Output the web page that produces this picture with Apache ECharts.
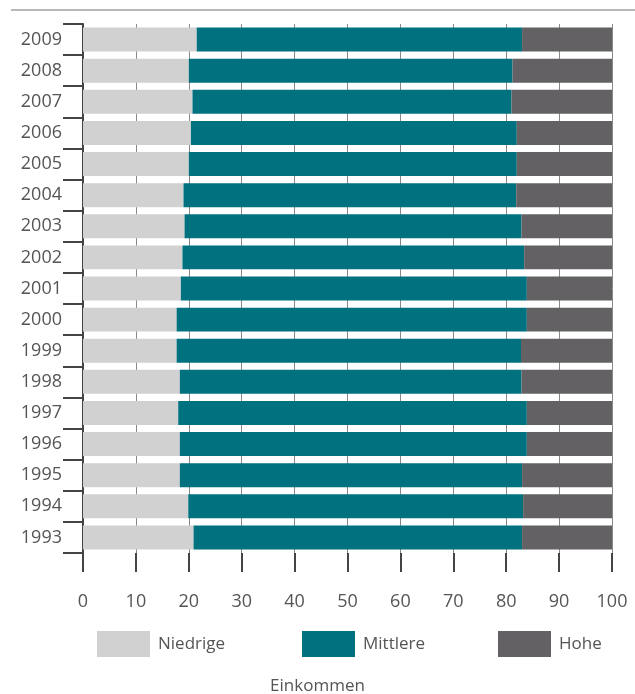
<!DOCTYPE html>
<html>
<head>
<meta charset="utf-8">
<script src="https://cdn.jsdelivr.net/npm/echarts@6/dist/echarts.min.js"></script>
<style>
  html, body { margin: 0; padding: 0; background: #fff; }
  #chart { width: 635px; height: 694px; }
</style>
</head>
<body>
<div id="chart"></div>
<script>
// Jahre von unten nach oben
const years = ["1993", "1994", "1995", "1996", "1997", "1998", "1999", "2000", "2001",
  "2002", "2003", "2004", "2005", "2006", "2007", "2008", "2009"];
const niedrige = [20.9, 19.9, 18.3, 18.3, 18.0, 18.3, 17.7, 17.7, 18.5,
  18.8, 19.2, 19.0, 20.0, 20.4, 20.7, 20.0, 21.5];
const mittlere = [62.1, 63.3, 64.7, 65.6, 65.9, 64.6, 65.1, 66.2, 65.4,
  64.6, 63.7, 62.9, 62.0, 61.6, 60.3, 61.2, 61.5];
const hohe = [17.0, 16.8, 17.0, 16.1, 16.1, 17.1, 17.2, 16.1, 16.1,
  16.6, 17.1, 18.1, 18.0, 18.0, 19.0, 18.8, 17.0];
const xTicks = [0, 10, 20, 30, 40, 50, 60, 70, 80, 90, 100];

const font = "'Open Sans', 'Noto Sans', sans-serif";
const textColor = "#555";

const legendBase = {
  top: 626,
  itemWidth: 53,
  itemHeight: 26,
  itemGap: 0,
  icon: "rect",
  textStyle: { fontFamily: font, fontSize: 17, color: textColor, padding: [0, 0, 0, 3] },
};

const option = {
  animation: false,
  backgroundColor: "#fff",
  title: {
    text: "Einkommen",
    left: "center",
    top: 673,
    textStyle: { fontFamily: font, fontSize: 17, fontWeight: "normal", color: textColor },
  },
  legend: [
    { ...legendBase, left: 92, data: ["Niedrige"] },
    { ...legendBase, left: 297, data: ["Mittlere"] },
    { ...legendBase, left: 493, data: ["Hohe"] },
  ],
  grid: {
    left: 83,
    right: 23,
    top: 24,
    bottom: 141,
  },
  xAxis: {
    type: "value",
    min: xTicks[0],
    max: xTicks[xTicks.length - 1],
    interval: 10,
    axisLine: { show: false },
    axisTick: {
      show: true,
      length: 19,
      lineStyle: { color: "#444", width: 2 },
    },
    axisLabel: {
      margin: 40,
      fontFamily: font,
      fontSize: 18,
      color: textColor,
    },
    splitLine: {
      show: true,
      lineStyle: { color: "#888", width: 1 },
    },
  },
  yAxis: {
    type: "category",
    data: years,
    axisLine: { show: true, lineStyle: { color: "#444", width: 2 } },
    axisTick: {
      show: true,
      length: 20,
      lineStyle: { color: "#444", width: 2 },
    },
    axisLabel: {
      margin: 21,
      fontFamily: font,
      fontSize: 18,
      color: textColor,
    },
  },
  series: [
    {
      name: "Niedrige",
      type: "bar",
      stack: "total",
      barCategoryGap: "23%",
      itemStyle: { color: "#d1d1d1" },
      data: niedrige,
    },
    {
      name: "Mittlere",
      type: "bar",
      stack: "total",
      barCategoryGap: "23%",
      itemStyle: { color: "#00717f" },
      data: mittlere,
    },
    {
      name: "Hohe",
      type: "bar",
      stack: "total",
      barCategoryGap: "23%",
      itemStyle: { color: "#636163" },
      data: hohe,
    },
  ],
  graphic: [
    {
      type: "line",
      shape: { x1: 11, y1: 10, x2: 635, y2: 10 },
      style: { stroke: "#b8b8b8", lineWidth: 2 },
    },
  ],
};

const myChart = echarts.init(document.getElementById("chart"));
myChart.setOption(option);
</script>
</body>
</html>
